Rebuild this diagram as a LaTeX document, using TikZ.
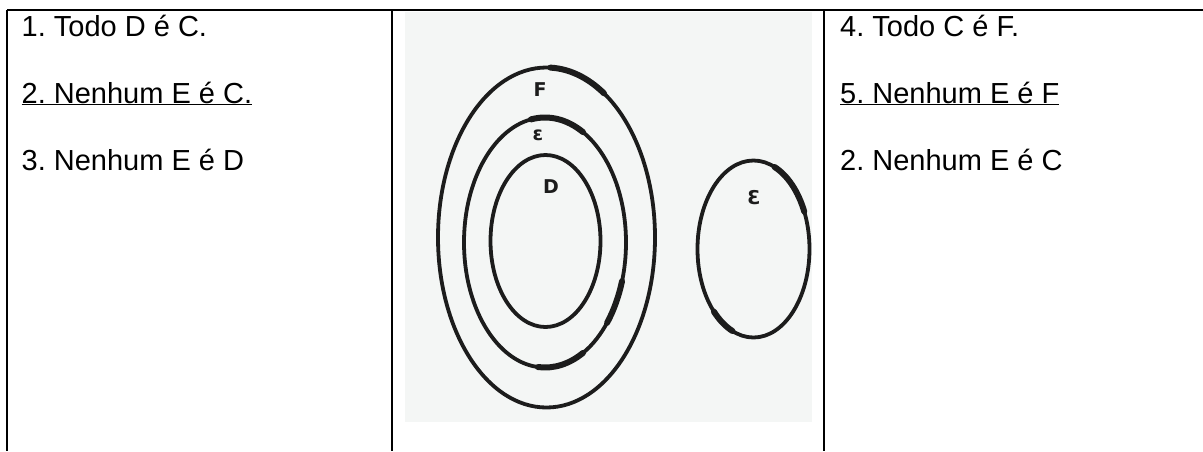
\documentclass[tikz,border=0pt]{standalone}
\usepackage{fontspec}
\setmainfont{Liberation Sans}
\newfontfamily\handfont{DejaVu Sans}
\frenchspacing
\definecolor{photobg}{RGB}{244,246,245}
\definecolor{ink}{RGB}{28,28,28}
\tikzset{
  rule/.style={line width=2.6pt, black},
  stmt/.style={anchor=base west, inner sep=0pt, font=\frenchspacing\fontsize{29}{34}\selectfont},
  ring/.style={draw=ink, line width=3.8pt},
  heavy/.style={draw=ink, line width=6pt, line cap=round},
  hand/.style={inner sep=0pt, text=ink, font=\handfont\bfseries\fontsize{19}{19}\selectfont}
}
\begin{document}
\begin{tikzpicture}[x=1pt,y=-1pt]
\useasboundingbox (0,0) rectangle (1203,451);
\fill[white] (0,0) rectangle (1203,451);
% photo of the drawing
\fill[photobg] (405,12) rectangle (812,422);
% table rules
\coordinate (tl) at (7,10);
\coordinate (tr) at (1203,10);
\coordinate (bl) at (7,451);
\coordinate (d1t) at (392,10);
\coordinate (d1b) at (392,451);
\coordinate (d2t) at (824,10);
\coordinate (d2b) at (824,451);
\draw[rule] (tl) -- (tr);
\draw[rule] (tl) -- (bl);
\draw[rule] (d1t) -- (d1b);
\draw[rule] (d2t) -- (d2b);
% left column
\node[stmt] (s1) at (21.5,36.5) {1. Todo D é C.};
\node[stmt] (s2) at (21.5,103) {\underline{2. Nenhum E é C.}};
\node[stmt] (s3) at (21.5,170) {3. Nenhum E é D};
% right column
\node[stmt] (s4) at (840,36.5) {4. Todo C é F.};
\node[stmt] (s5) at (840,103) {\underline{5. Nenhum E é F}};
\node[stmt] (s6) at (840,170) {2. Nenhum E é C};
% circles
\draw[ring] (546.5,237.5) ellipse [x radius=108.5, y radius=170];
\draw[ring] (545,242.5) ellipse [x radius=81, y radius=125];
\draw[ring] (545.5,241) ellipse [x radius=55, y radius=86];
\draw[ring] (753.5,249) ellipse [x radius=56, y radius=88.5];
% heavier pen strokes
\draw[heavy] (546.5,237.5) ++(-88:108.5 and 170) arc [start angle=-88, end angle=-58, x radius=108.5, y radius=170];
\draw[heavy] (545,242.5) ++(-100:81 and 125) arc [start angle=-100, end angle=-62, x radius=81, y radius=125];
\draw[heavy] (545,242.5) ++(95:81 and 125) arc [start angle=95, end angle=62, x radius=81, y radius=125];
\draw[heavy] (545,242.5) ++(40:81 and 125) arc [start angle=40, end angle=18, x radius=81, y radius=125];
\draw[heavy] (753.5,249) ++(-68:56 and 88.5) arc [start angle=-68, end angle=-25, x radius=56, y radius=88.5];
\draw[heavy] (753.5,249) ++(135:56 and 88.5) arc [start angle=135, end angle=112, x radius=56, y radius=88.5];
% labels
\node[hand] (lF) at (540,90) {F};
\node[hand] (lC) at (538,135) {ε};
\node[hand] (lD) at (551,187) {D};
\node[hand] (lE) at (754,198) {Ɛ};
\end{tikzpicture}
\end{document}
